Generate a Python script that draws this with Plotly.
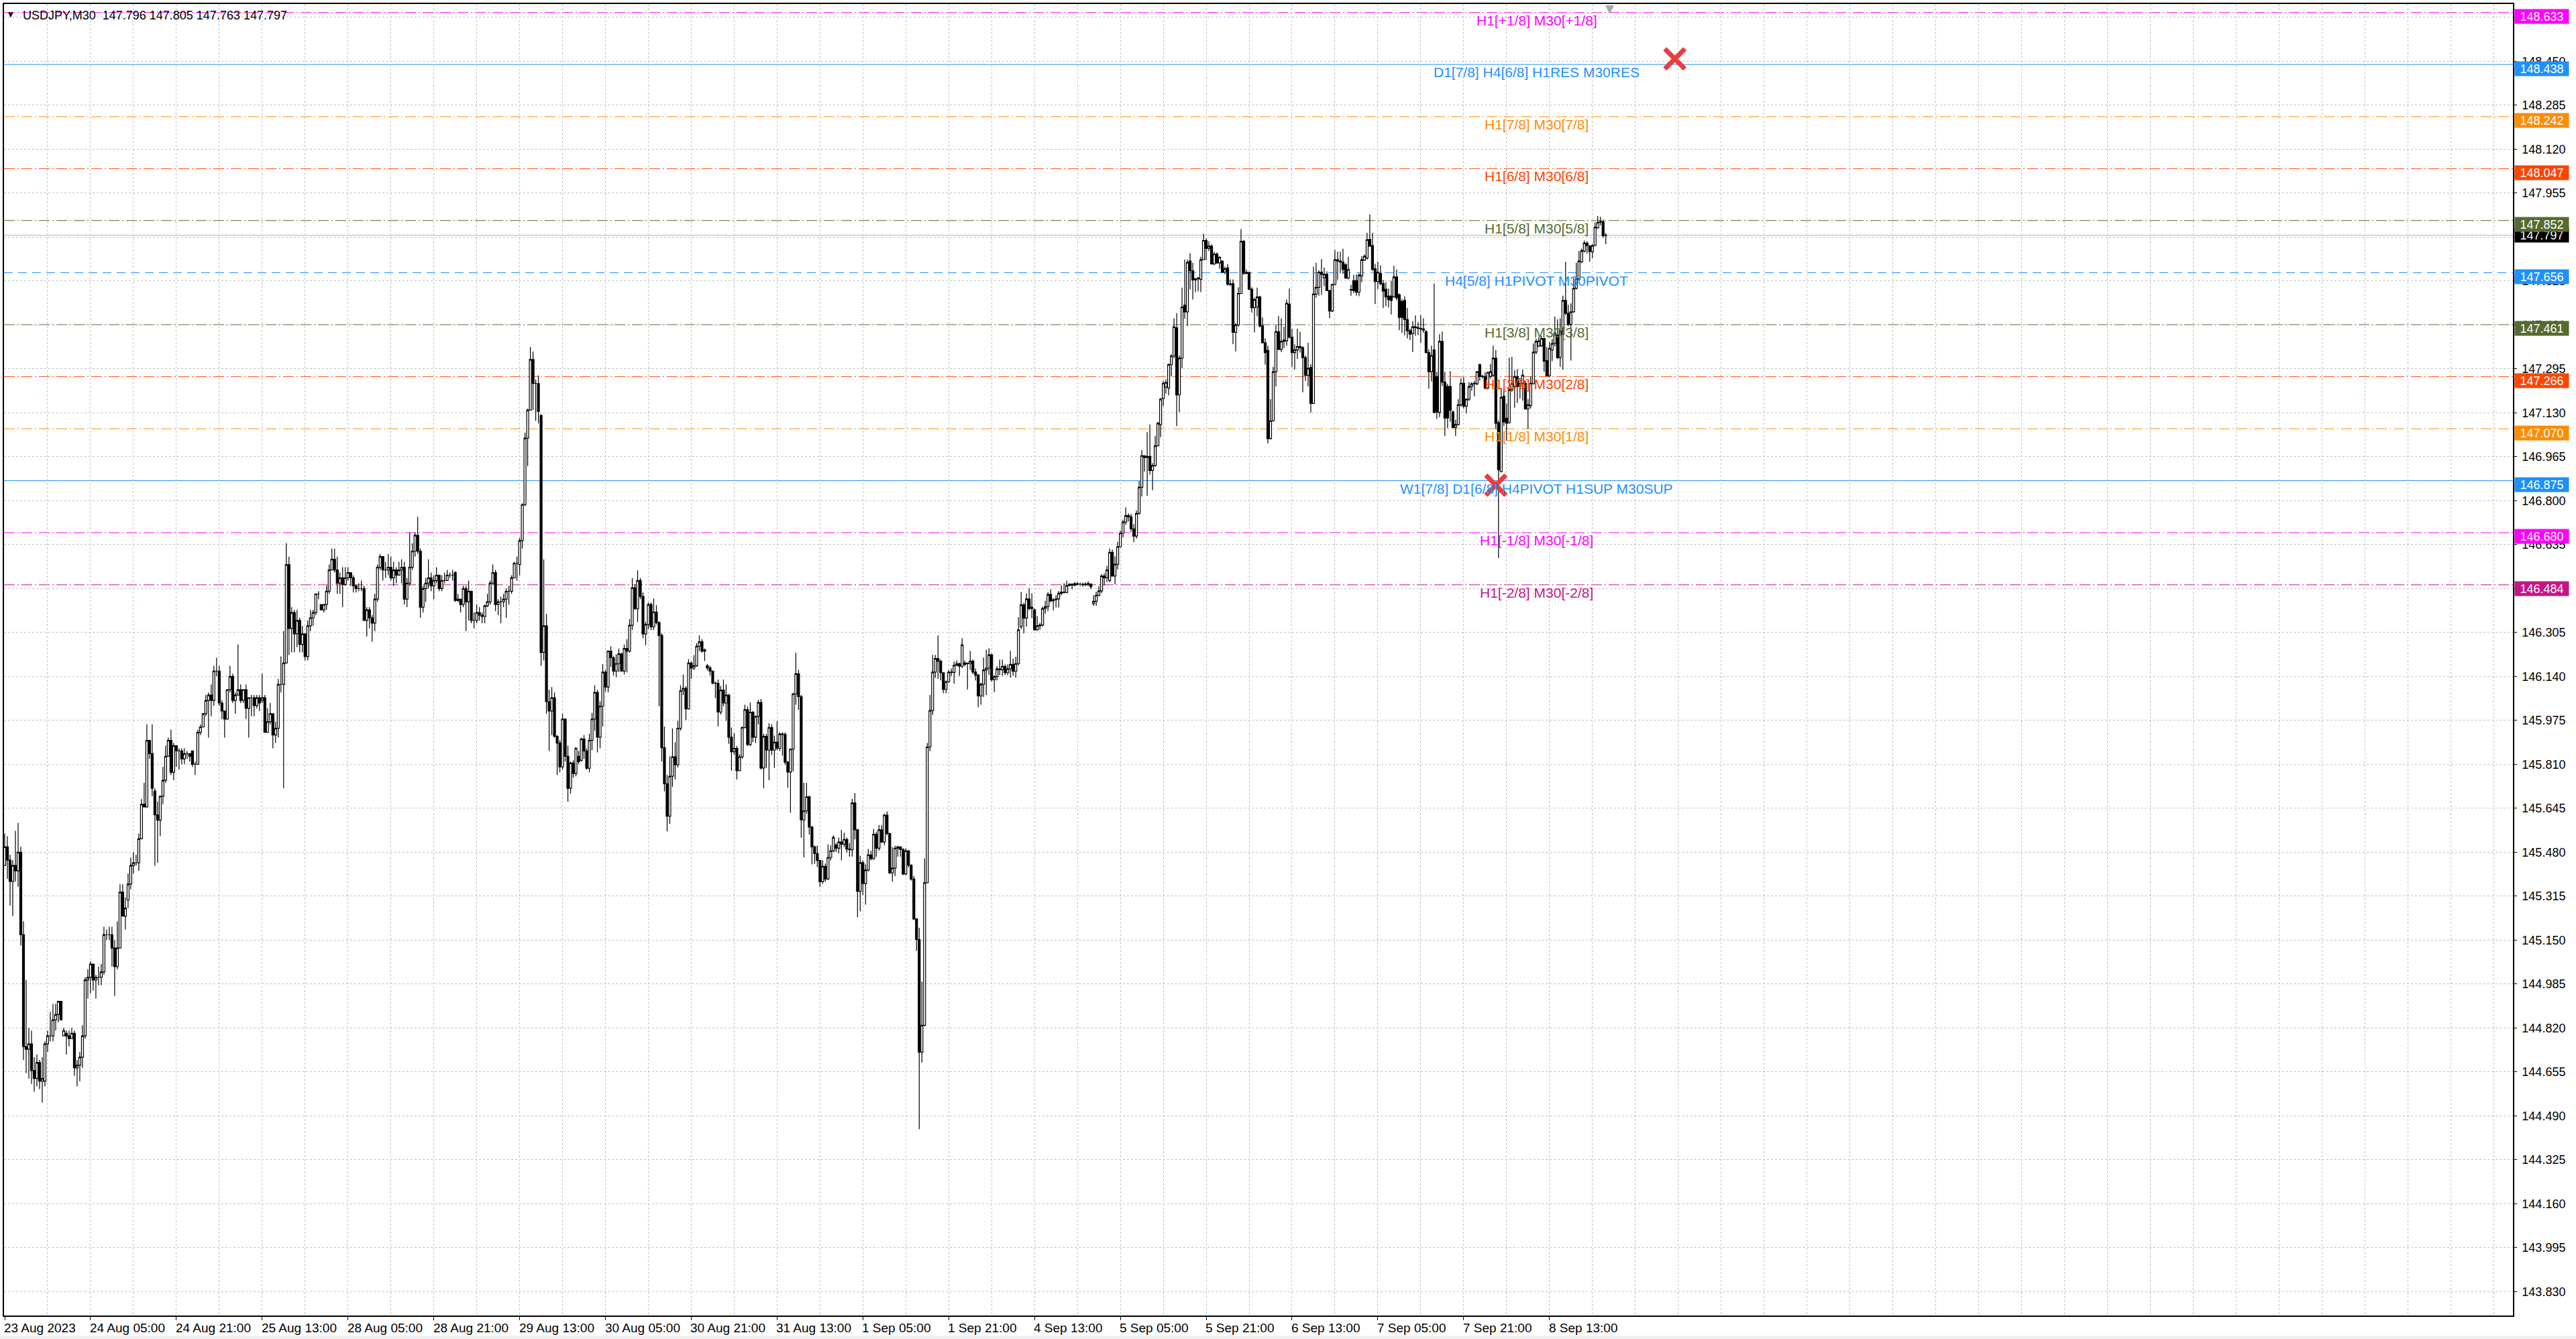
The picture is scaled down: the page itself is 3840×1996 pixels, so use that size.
import plotly.graph_objects as go

# chart header
header_text = "USDJPY,M30  147.796 147.805 147.763 147.797"

# time axis labels, one every 32 M30 bars (16 hours)
time_labels = ["23 Aug 2023", "24 Aug 05:00", "24 Aug 21:00", "25 Aug 13:00", "28 Aug 05:00",
               "28 Aug 21:00", "29 Aug 13:00", "30 Aug 05:00", "30 Aug 21:00", "31 Aug 13:00",
               "1 Sep 05:00", "1 Sep 21:00", "4 Sep 13:00", "5 Sep 05:00", "5 Sep 21:00",
               "6 Sep 13:00", "7 Sep 05:00", "7 Sep 21:00", "8 Sep 13:00"]
bars_per_label = 32

# price scale labels
price_ticks = [143.830, 143.995, 144.160, 144.325, 144.490, 144.655, 144.820, 144.985,
               145.150, 145.315, 145.480, 145.645, 145.810, 145.975, 146.140, 146.305,
               146.470, 146.635, 146.800, 146.965, 147.130, 147.295, 147.460, 147.625,
               147.790, 147.955, 148.120, 148.285, 148.450, 148.615]

# M30 candles
opens = [
    145.43, 145.50, 145.45, 145.37, 145.43, 145.41, 145.48, 145.17, 144.75, 144.74,
    144.76, 144.66, 144.63, 144.69, 144.62, 144.62, 144.76, 144.79, 144.79, 144.85,
    144.87, 144.92, 144.79, 144.80, 144.79, 144.78, 144.80, 144.67, 144.68, 144.71,
    144.79, 145.00, 145.01, 145.06, 145.00, 145.01, 145.01, 145.03, 145.17, 145.17,
    145.17, 145.12, 145.05, 145.12, 145.33, 145.24, 145.30, 145.36, 145.43, 145.44,
    145.44, 145.53, 145.66, 145.65, 145.90, 145.85, 145.71, 145.62, 145.60, 145.69,
    145.75, 145.84, 145.90, 145.78, 145.88, 145.86, 145.86, 145.83, 145.85, 145.85,
    145.86, 145.81, 145.81, 145.93, 145.95, 146.00, 146.05, 146.07, 146.05, 146.16,
    146.16, 146.04, 146.01, 145.98, 146.09, 146.14, 146.05, 146.07, 146.09, 146.05,
    146.09, 146.02, 146.06, 146.06, 146.03, 146.06, 146.05, 146.06, 145.93, 145.97,
    146.00, 145.92, 145.945, 146.11, 146.11, 146.19, 146.56, 146.32, 146.38, 146.30,
    146.35, 146.26, 146.30, 146.215, 146.33, 146.36, 146.38, 146.45, 146.41, 146.39,
    146.41, 146.46, 146.54, 146.58, 146.54, 146.49, 146.51, 146.485, 146.51, 146.53,
    146.51, 146.48, 146.47, 146.47, 146.47, 146.35, 146.39, 146.36, 146.34, 146.43,
    146.55, 146.59, 146.54, 146.54, 146.55, 146.51, 146.54, 146.52, 146.54, 146.55,
    146.43, 146.49, 146.55, 146.61, 146.67, 146.61, 146.40, 146.47, 146.49, 146.51,
    146.48, 146.50, 146.52, 146.47, 146.50, 146.50, 146.52, 146.52, 146.53, 146.425,
    146.43, 146.41, 146.47, 146.42, 146.46, 146.35, 146.35, 146.38, 146.37, 146.365,
    146.405, 146.42, 146.49, 146.53, 146.41, 146.42, 146.42, 146.43, 146.46, 146.46,
    146.51, 146.565, 146.56, 146.65, 146.785, 147.035, 147.14, 147.33, 147.24, 147.24,
    147.12, 146.23, 146.33, 146.045, 146.01, 146.06, 145.915, 145.89, 145.80, 145.98,
    145.84, 145.72, 145.815, 145.775, 145.84, 145.825, 145.905, 145.86, 145.795, 145.90,
    145.98, 146.08, 145.912, 146.028, 146.156, 146.10, 146.235, 146.21, 146.16, 146.188,
    146.225, 146.16, 146.245, 146.235, 146.332, 146.473, 146.394, 146.50, 146.44, 146.30,
    146.335, 146.41, 146.326, 146.382, 146.342, 146.294, 145.872, 145.737, 145.615, 145.765,
    145.838, 145.808, 145.945, 146.086, 146.095, 146.018, 146.19, 146.171, 146.18, 146.253,
    146.27, 146.235, 146.18, 146.172, 146.16, 146.115, 146.114, 146.006, 146.089, 146.04,
    146.07, 145.912, 145.857, 145.87, 145.786, 145.838, 145.948, 146.015, 145.884, 146.006,
    145.912, 145.99, 146.042, 145.796, 145.915, 145.863, 145.948, 145.863, 145.893, 145.87,
    145.924, 145.922, 145.818, 145.781, 145.867, 146.074, 146.15, 146.064, 145.601, 145.635,
    145.688, 145.574, 145.50, 145.475, 145.449, 145.369, 145.427, 145.379, 145.46, 145.485,
    145.507, 145.495, 145.518, 145.51, 145.528, 145.492, 145.489, 145.665, 145.564, 145.333,
    145.441, 145.362, 145.413, 145.47, 145.456, 145.547, 145.495, 145.564, 145.518, 145.619,
    145.55, 145.402, 145.42, 145.495, 145.50, 145.49, 145.398, 145.485, 145.431, 145.379,
    145.229, 145.152, 144.729, 144.83, 145.365, 145.875, 146.012, 146.156, 146.207, 146.197,
    146.154, 146.091, 146.12, 146.156, 146.155, 146.182, 146.188, 146.178, 146.185, 146.19,
    146.188, 146.197, 146.156, 146.145, 146.067, 146.11, 146.164, 146.171, 146.221, 146.128,
    146.139, 146.168, 146.165, 146.178, 146.154, 146.168, 146.185, 146.159, 146.188, 146.327,
    146.409, 146.359, 146.431, 146.395, 146.39, 146.315, 146.33, 146.333, 146.395, 146.402,
    146.448, 146.424, 146.428, 146.431, 146.452, 146.457, 146.455, 146.481, 146.486, 146.483,
    146.488, 146.486, 146.486, 146.484, 146.486, 146.487, 146.413, 146.422, 146.445, 146.461,
    146.517, 146.51, 146.50, 146.606, 146.517, 146.561, 146.627, 146.678, 146.72, 146.744,
    146.74, 146.694, 146.667, 146.752, 146.85, 146.969, 146.962, 146.966, 146.913, 146.932,
    147.006, 147.086, 147.184, 147.226, 147.223, 147.311, 147.343, 147.449, 147.197, 147.335,
    147.534, 147.509, 147.70, 147.663, 147.629, 147.633, 147.631, 147.705, 147.777, 147.747,
    147.756, 147.689, 147.726, 147.693, 147.70, 147.658, 147.675, 147.612, 147.615, 147.432,
    147.46, 147.578, 147.774, 147.654, 147.657, 147.594, 147.525, 147.527, 147.565, 147.456,
    147.393, 147.364, 147.033, 147.10, 147.284, 147.435, 147.368, 147.398, 147.40, 147.538,
    147.414, 147.356, 147.366, 147.379, 147.375, 147.337, 147.271, 147.30, 147.165, 147.576,
    147.601, 147.658, 147.637, 147.65, 147.589, 147.512, 147.612, 147.705, 147.70, 147.696,
    147.686, 147.636, 147.593, 147.626, 147.626, 147.583, 147.644, 147.703, 147.711, 147.781,
    147.758, 147.671, 147.623, 147.654, 147.615, 147.594, 147.568, 147.568, 147.565, 147.64,
    147.573, 147.548, 147.552, 147.48, 147.438, 147.428, 147.453, 147.45, 147.447, 147.445,
    147.435, 147.356, 147.284, 147.366, 147.266, 147.131, 147.398, 147.245, 147.229, 147.229,
    147.133, 147.075, 147.086, 147.16, 147.241, 147.155, 147.181, 147.229, 147.239, 147.239,
    147.311, 147.266, 147.266, 147.223, 147.266, 147.271, 147.335, 147.093, 146.909, 147.192,
    147.11, 147.093, 147.216, 147.229, 147.266, 147.229, 147.241, 147.241, 147.144, 147.157,
    147.239, 147.358, 147.38, 147.382, 147.409, 147.326, 147.269, 147.366, 147.39, 147.422,
    147.337, 147.424, 147.552, 147.504, 147.462, 147.509, 147.597, 147.631, 147.697, 147.737,
    147.767, 147.756, 147.735, 147.758, 147.824, 147.845, 147.848, 147.796]

highs = [
    145.55, 145.54, 145.47, 145.45, 145.56, 145.59, 145.50, 145.22, 145.00, 144.82,
    144.81, 144.71, 144.72, 144.70, 144.71, 144.77, 144.81, 144.88, 144.91, 144.91,
    144.92, 144.92, 144.82, 144.81, 144.81, 144.82, 144.81, 144.70, 144.73, 144.83,
    145.01, 145.04, 145.07, 145.06, 145.02, 145.05, 145.06, 145.20, 145.19, 145.20,
    145.20, 145.15, 145.22, 145.36, 145.36, 145.31, 145.40, 145.46, 145.48, 145.47,
    145.55, 145.68, 145.74, 145.96, 145.90, 145.96, 145.72, 145.67, 145.69, 145.80,
    145.88, 145.91, 145.94, 145.89, 145.88, 145.87, 145.87, 145.87, 145.86, 145.85,
    145.86, 145.82, 145.94, 145.96, 146.00, 146.07, 146.08, 146.11, 146.18, 146.21,
    146.18, 146.05, 146.01, 146.09, 146.18, 146.15, 146.08, 146.26, 146.11, 146.09,
    146.11, 146.06, 146.07, 146.07, 146.07, 146.07, 146.15, 146.07, 146.02, 146.04,
    146.00, 145.97, 146.13, 146.215, 146.31, 146.64, 146.59, 146.40, 146.39, 146.39,
    146.36, 146.33, 146.30, 146.35, 146.39, 146.39, 146.45, 146.46, 146.41, 146.41,
    146.48, 146.56, 146.62, 146.62, 146.59, 146.53, 146.55, 146.55, 146.55, 146.53,
    146.52, 146.485, 146.49, 146.50, 146.48, 146.40, 146.40, 146.37, 146.45, 146.56,
    146.60, 146.59, 146.57, 146.60, 146.59, 146.57, 146.55, 146.57, 146.58, 146.57,
    146.51, 146.68, 146.64, 146.68, 146.74, 146.62, 146.48, 146.51, 146.58, 146.53,
    146.52, 146.55, 146.52, 146.52, 146.53, 146.54, 146.53, 146.54, 146.535, 146.45,
    146.43, 146.48, 146.48, 146.50, 146.46, 146.38, 146.41, 146.40, 146.38, 146.41,
    146.45, 146.50, 146.56, 146.54, 146.43, 146.44, 146.45, 146.47, 146.48, 146.52,
    146.57, 146.59, 146.66, 146.79, 147.055, 147.145, 147.377, 147.36, 147.255, 147.27,
    147.125, 146.58, 146.375, 146.09, 146.10, 146.08, 145.92, 145.90, 146.00, 145.98,
    145.88, 145.82, 145.825, 145.875, 145.86, 145.91, 145.92, 145.87, 145.925, 146.003,
    146.107, 146.09, 146.046, 146.186, 146.164, 146.237, 146.253, 146.217, 146.223, 146.245,
    146.229, 146.26, 146.28, 146.355, 146.51, 146.485, 146.538, 146.51, 146.455, 146.345,
    146.418, 146.417, 146.433, 146.408, 146.347, 146.302, 145.952, 145.77, 145.84, 145.945,
    145.893, 145.973, 146.107, 146.147, 146.103, 146.205, 146.196, 146.22, 146.265, 146.294,
    146.28, 146.245, 146.186, 146.18, 146.162, 146.12, 146.128, 146.104, 146.128, 146.11,
    146.074, 145.948, 145.928, 145.879, 145.847, 145.952, 146.034, 146.028, 146.042, 146.01,
    145.993, 146.052, 146.055, 145.924, 145.924, 145.964, 145.96, 145.918, 145.972, 145.93,
    145.93, 145.93, 145.823, 145.869, 146.079, 146.229, 146.165, 146.07, 145.74, 145.74,
    145.692, 145.579, 145.505, 145.505, 145.449, 145.449, 145.437, 145.509, 145.506, 145.543,
    145.514, 145.535, 145.564, 145.553, 145.535, 145.514, 145.68, 145.702, 145.567, 145.466,
    145.449, 145.434, 145.492, 145.485, 145.567, 145.557, 145.582, 145.582, 145.625, 145.633,
    145.553, 145.499, 145.504, 145.504, 145.50, 145.495, 145.495, 145.489, 145.434, 145.391,
    145.232, 145.196, 144.994, 145.456, 145.89, 146.07, 146.221, 146.221, 146.294, 146.203,
    146.154, 146.125, 146.164, 146.17, 146.197, 146.20, 146.192, 146.284, 146.20, 146.192,
    146.236, 146.203, 146.17, 146.149, 146.116, 146.211, 146.24, 146.246, 146.226, 146.145,
    146.178, 146.203, 146.203, 146.185, 146.185, 146.236, 146.207, 146.214, 146.362, 146.457,
    146.416, 146.452, 146.471, 146.452, 146.395, 146.366, 146.341, 146.402, 146.424, 146.457,
    146.467, 146.434, 146.445, 146.46, 146.481, 146.49, 146.50, 146.49, 146.49, 146.495,
    146.494, 146.492, 146.492, 146.494, 146.497, 146.489, 146.445, 146.458, 146.479, 146.524,
    146.527, 146.556, 146.62, 146.616, 146.591, 146.646, 146.688, 146.729, 146.775, 146.752,
    146.75, 146.712, 146.763, 146.874, 146.99, 146.969, 147.057, 147.086, 146.941, 147.043,
    147.096, 147.186, 147.25, 147.255, 147.315, 147.35, 147.485, 147.504, 147.345, 147.60,
    147.705, 147.705, 147.729, 147.693, 147.636, 147.64, 147.716, 147.803, 147.785, 147.774,
    147.763, 147.735, 147.732, 147.718, 147.70, 147.679, 147.689, 147.631, 147.631, 147.467,
    147.601, 147.82, 147.779, 147.668, 147.658, 147.601, 147.562, 147.60, 147.57, 147.488,
    147.409, 147.382, 147.181, 147.303, 147.462, 147.493, 147.485, 147.453, 147.555, 147.597,
    147.446, 147.387, 147.446, 147.435, 147.379, 147.345, 147.393, 147.313, 147.679, 147.693,
    147.665, 147.707, 147.675, 147.661, 147.591, 147.615, 147.742, 147.735, 147.735, 147.746,
    147.692, 147.716, 147.61, 147.647, 147.65, 147.654, 147.718, 147.724, 147.806, 147.875,
    147.806, 147.689, 147.697, 147.684, 147.629, 147.62, 147.597, 147.626, 147.682, 147.668,
    147.578, 147.557, 147.568, 147.523, 147.446, 147.474, 147.496, 147.47, 147.496, 147.485,
    147.44, 147.368, 147.382, 147.615, 147.284, 147.425, 147.435, 147.284, 147.239, 147.287,
    147.139, 147.104, 147.181, 147.26, 147.266, 147.184, 147.245, 147.245, 147.25, 147.287,
    147.315, 147.273, 147.282, 147.284, 147.313, 147.382, 147.366, 147.102, 147.223, 147.218,
    147.165, 147.337, 147.34, 147.29, 147.294, 147.262, 147.292, 147.252, 147.181, 147.266,
    147.39, 147.409, 147.414, 147.419, 147.412, 147.377, 147.396, 147.407, 147.491, 147.481,
    147.485, 147.57, 147.697, 147.536, 147.541, 147.636, 147.693, 147.737, 147.746, 147.777,
    147.774, 147.76, 147.763, 147.845, 147.869, 147.866, 147.856, 147.805]

lows = [
    145.43, 145.38, 145.28, 145.24, 145.37, 145.35, 145.13, 144.70, 144.65, 144.63,
    144.61, 144.58, 144.60, 144.59, 144.54, 144.60, 144.73, 144.77, 144.77, 144.81,
    144.84, 144.85, 144.79, 144.72, 144.75, 144.78, 144.64, 144.60, 144.62, 144.67,
    144.78, 144.93, 144.95, 144.96, 144.93, 144.98, 144.98, 145.02, 145.15, 145.15,
    145.05, 144.94, 145.04, 145.12, 145.24, 145.19, 145.27, 145.34, 145.40, 145.43,
    145.41, 145.53, 145.65, 145.65, 145.83, 145.69, 145.43, 145.44, 145.54, 145.66,
    145.74, 145.84, 145.77, 145.75, 145.80, 145.79, 145.81, 145.81, 145.83, 145.82,
    145.80, 145.77, 145.81, 145.92, 145.95, 145.99, 145.91, 145.99, 146.03, 146.14,
    146.03, 145.98, 145.91, 145.98, 146.08, 146.04, 146.00, 146.07, 146.04, 146.04,
    145.98, 145.91, 145.99, 145.99, 146.02, 146.01, 146.04, 145.93, 145.93, 145.96,
    145.87, 145.89, 145.91, 146.08, 145.72, 146.19, 146.22, 146.23, 146.23, 146.25,
    146.23, 146.23, 146.20, 146.20, 146.31, 146.33, 146.37, 146.43, 146.39, 146.38,
    146.39, 146.45, 146.54, 146.53, 146.45, 146.45, 146.40, 146.48, 146.50, 146.48,
    146.455, 146.455, 146.46, 146.46, 146.35, 146.29, 146.32, 146.27, 146.31, 146.42,
    146.54, 146.50, 146.51, 146.52, 146.50, 146.48, 146.49, 146.52, 146.49, 146.41,
    146.40, 146.48, 146.54, 146.59, 146.60, 146.36, 146.38, 146.42, 146.47, 146.46,
    146.43, 146.49, 146.46, 146.46, 146.49, 146.50, 146.51, 146.50, 146.42, 146.42,
    146.38, 146.40, 146.31, 146.35, 146.34, 146.32, 146.34, 146.35, 146.34, 146.34,
    146.40, 146.41, 146.485, 146.385, 146.37, 146.34, 146.40, 146.36, 146.41, 146.45,
    146.51, 146.50, 146.52, 146.62, 146.78, 146.93, 147.14, 147.14, 147.10, 147.09,
    146.18, 146.20, 146.00, 145.86, 145.92, 145.91, 145.77, 145.78, 145.79, 145.82,
    145.67, 145.70, 145.76, 145.765, 145.81, 145.82, 145.83, 145.79, 145.78, 145.863,
    145.936, 145.855, 145.87, 145.952, 146.082, 146.08, 146.176, 146.144, 146.137, 146.156,
    146.16, 146.147, 146.155, 146.229, 146.314, 146.39, 146.345, 146.43, 146.284, 146.257,
    146.318, 146.314, 146.314, 146.335, 146.028, 145.82, 145.708, 145.558, 145.586, 145.725,
    145.753, 145.798, 145.936, 146.07, 145.976, 146.015, 146.131, 146.164, 146.176, 146.235,
    146.229, 146.198, 146.162, 146.144, 146.11, 146.058, 145.952, 145.997, 146.028, 145.973,
    145.887, 145.786, 145.845, 145.753, 145.786, 145.83, 145.945, 145.878, 145.878, 145.893,
    145.89, 145.96, 145.79, 145.72, 145.796, 145.75, 145.845, 145.796, 145.863, 145.86,
    145.842, 145.808, 145.722, 145.628, 145.784, 146.034, 146.015, 145.534, 145.46, 145.625,
    145.546, 145.434, 145.436, 145.424, 145.35, 145.362, 145.369, 145.376, 145.449, 145.48,
    145.48, 145.475, 145.449, 145.499, 145.478, 145.463, 145.463, 145.528, 145.235, 145.258,
    145.319, 145.283, 145.408, 145.449, 145.452, 145.463, 145.485, 145.514, 145.506, 145.543,
    145.398, 145.369, 145.391, 145.463, 145.463, 145.394, 145.394, 145.423, 145.373, 145.225,
    145.109, 144.44, 144.69, 144.825, 145.365, 145.86, 145.995, 146.135, 146.131, 146.125,
    146.077, 146.077, 146.116, 146.142, 146.113, 146.178, 146.142, 146.171, 146.178, 146.091,
    146.164, 146.149, 146.125, 146.024, 146.034, 146.063, 146.07, 146.145, 146.12, 146.081,
    146.125, 146.145, 146.142, 146.145, 146.145, 146.135, 146.142, 146.135, 146.182, 146.318,
    146.301, 146.327, 146.388, 146.359, 146.312, 146.312, 146.315, 146.327, 146.376, 146.385,
    146.417, 146.388, 146.399, 146.399, 146.445, 146.452, 146.452, 146.481, 146.467, 146.478,
    146.482, 146.479, 146.477, 146.479, 146.479, 146.468, 146.405, 146.405, 146.44, 146.453,
    146.482, 146.494, 146.493, 146.514, 146.485, 146.542, 146.624, 146.662, 146.709, 146.722,
    146.683, 146.644, 146.657, 146.747, 146.816, 146.909, 146.818, 146.898, 146.839, 146.927,
    147.004, 147.038, 147.155, 147.202, 147.195, 147.266, 147.335, 147.08, 147.133, 147.297,
    147.483, 147.456, 147.594, 147.555, 147.583, 147.587, 147.583, 147.703, 147.703, 147.737,
    147.686, 147.684, 147.689, 147.671, 147.654, 147.65, 147.608, 147.605, 147.388, 147.361,
    147.453, 147.576, 147.647, 147.65, 147.591, 147.506, 147.432, 147.493, 147.451, 147.39,
    147.311, 147.015, 147.03, 147.096, 147.229, 147.366, 147.358, 147.372, 147.382, 147.409,
    147.303, 147.292, 147.332, 147.356, 147.207, 147.25, 147.229, 147.131, 147.163, 147.562,
    147.57, 147.573, 147.605, 147.587, 147.485, 147.509, 147.608, 147.629, 147.654, 147.652,
    147.633, 147.631, 147.57, 147.58, 147.57, 147.568, 147.62, 147.70, 147.705, 147.753,
    147.663, 147.538, 147.594, 147.608, 147.523, 147.53, 147.525, 147.499, 147.562, 147.552,
    147.44, 147.43, 147.421, 147.409, 147.403, 147.358, 147.419, 147.421, 147.393, 147.43,
    147.354, 147.22, 147.248, 147.128, 147.107, 147.114, 147.231, 147.043, 147.072, 147.096,
    147.072, 147.043, 147.083, 147.152, 147.146, 147.128, 147.174, 147.213, 147.192, 147.234,
    147.25, 147.258, 147.218, 147.218, 147.258, 147.266, 147.07, 146.585, 146.909, 147.08,
    147.025, 147.089, 147.208, 147.149, 147.167, 147.184, 147.176, 147.142, 147.07, 147.146,
    147.237, 147.35, 147.377, 147.377, 147.284, 147.269, 147.263, 147.324, 147.379, 147.332,
    147.303, 147.292, 147.496, 147.456, 147.326, 147.506, 147.594, 147.626, 147.692, 147.732,
    147.728, 147.697, 147.711, 147.756, 147.822, 147.834, 147.788, 147.763]

closes = [
    145.50, 145.45, 145.37, 145.43, 145.41, 145.48, 145.17, 144.75, 144.74, 144.76,
    144.66, 144.63, 144.69, 144.62, 144.63, 144.76, 144.79, 144.79, 144.85, 144.87,
    144.92, 144.85, 144.81, 144.79, 144.78, 144.80, 144.67, 144.68, 144.71, 144.79,
    145.00, 145.01, 145.06, 145.00, 145.01, 145.01, 145.03, 145.17, 145.17, 145.17,
    145.12, 145.05, 145.12, 145.33, 145.24, 145.27, 145.36, 145.43, 145.44, 145.44,
    145.53, 145.66, 145.65, 145.90, 145.85, 145.72, 145.62, 145.60, 145.69, 145.75,
    145.84, 145.90, 145.78, 145.88, 145.86, 145.86, 145.83, 145.85, 145.85, 145.84,
    145.81, 145.81, 145.93, 145.95, 146.00, 146.05, 146.07, 146.05, 146.16, 146.16,
    146.04, 146.01, 145.98, 146.09, 146.14, 146.05, 146.07, 146.09, 146.05, 146.09,
    146.02, 146.06, 146.06, 146.03, 146.06, 146.04, 146.06, 145.93, 145.97, 146.00,
    145.92, 145.945, 146.11, 146.11, 146.19, 146.56, 146.32, 146.38, 146.30, 146.35,
    146.26, 146.30, 146.215, 146.33, 146.36, 146.38, 146.45, 146.45, 146.39, 146.41,
    146.46, 146.54, 146.58, 146.54, 146.49, 146.51, 146.485, 146.51, 146.53, 146.51,
    146.48, 146.47, 146.47, 146.47, 146.35, 146.39, 146.36, 146.34, 146.43, 146.55,
    146.59, 146.54, 146.54, 146.55, 146.51, 146.54, 146.52, 146.54, 146.55, 146.43,
    146.49, 146.55, 146.61, 146.67, 146.61, 146.40, 146.47, 146.49, 146.51, 146.48,
    146.50, 146.52, 146.47, 146.50, 146.50, 146.52, 146.52, 146.52, 146.425, 146.43,
    146.41, 146.47, 146.42, 146.46, 146.35, 146.35, 146.38, 146.37, 146.365, 146.405,
    146.42, 146.49, 146.53, 146.41, 146.42, 146.42, 146.43, 146.46, 146.46, 146.51,
    146.565, 146.565, 146.65, 146.785, 147.035, 147.14, 147.33, 147.24, 147.24, 147.135,
    146.23, 146.33, 146.045, 146.01, 146.06, 145.915, 145.89, 145.80, 145.98, 145.84,
    145.72, 145.815, 145.775, 145.87, 145.82, 145.905, 145.86, 145.795, 145.90, 145.98,
    146.08, 145.912, 146.028, 146.156, 146.10, 146.235, 146.21, 146.16, 146.188, 146.225,
    146.16, 146.245, 146.235, 146.332, 146.473, 146.394, 146.50, 146.44, 146.30, 146.335,
    146.41, 146.326, 146.382, 146.342, 146.294, 145.872, 145.737, 145.615, 145.765, 145.838,
    145.808, 145.945, 146.086, 146.095, 146.018, 146.19, 146.171, 146.18, 146.253, 146.27,
    146.235, 146.24, 146.172, 146.16, 146.115, 146.114, 146.006, 146.089, 146.04, 146.07,
    145.912, 145.857, 145.87, 145.786, 145.838, 145.948, 146.015, 145.884, 146.006, 145.912,
    145.99, 146.042, 145.796, 145.915, 145.863, 145.948, 145.863, 145.893, 145.87, 145.924,
    145.922, 145.818, 145.781, 145.867, 146.074, 146.15, 146.064, 145.601, 145.635, 145.688,
    145.574, 145.50, 145.475, 145.449, 145.369, 145.427, 145.379, 145.46, 145.485, 145.535,
    145.495, 145.518, 145.51, 145.528, 145.492, 145.489, 145.665, 145.564, 145.333, 145.441,
    145.362, 145.413, 145.47, 145.456, 145.547, 145.495, 145.564, 145.518, 145.619, 145.55,
    145.402, 145.42, 145.495, 145.50, 145.49, 145.398, 145.485, 145.431, 145.379, 145.229,
    145.152, 144.729, 144.83, 145.365, 145.875, 146.012, 146.156, 146.207, 146.197, 146.154,
    146.091, 146.12, 146.156, 146.155, 146.182, 146.188, 146.178, 146.258, 146.19, 146.188,
    146.197, 146.156, 146.145, 146.067, 146.11, 146.164, 146.171, 146.221, 146.128, 146.139,
    146.168, 146.165, 146.178, 146.154, 146.168, 146.185, 146.159, 146.188, 146.315, 146.409,
    146.359, 146.431, 146.395, 146.40, 146.315, 146.33, 146.333, 146.395, 146.402, 146.448,
    146.424, 146.428, 146.431, 146.452, 146.457, 146.455, 146.481, 146.486, 146.483, 146.488,
    146.486, 146.486, 146.484, 146.486, 146.489, 146.477, 146.422, 146.445, 146.461, 146.517,
    146.51, 146.54, 146.606, 146.517, 146.561, 146.627, 146.678, 146.72, 146.744, 146.74,
    146.694, 146.667, 146.752, 146.85, 146.969, 146.962, 146.966, 146.913, 146.932, 147.006,
    147.091, 147.181, 147.241, 147.244, 147.311, 147.343, 147.453, 147.197, 147.335, 147.527,
    147.509, 147.695, 147.663, 147.629, 147.633, 147.636, 147.705, 147.777, 147.747, 147.756,
    147.689, 147.726, 147.693, 147.714, 147.658, 147.671, 147.612, 147.614, 147.432, 147.46,
    147.578, 147.774, 147.654, 147.657, 147.594, 147.525, 147.555, 147.565, 147.456, 147.393,
    147.356, 147.033, 147.10, 147.284, 147.435, 147.368, 147.398, 147.403, 147.541, 147.414,
    147.356, 147.366, 147.379, 147.375, 147.337, 147.271, 147.297, 147.165, 147.576, 147.601,
    147.658, 147.65, 147.65, 147.589, 147.512, 147.612, 147.705, 147.70, 147.696, 147.668,
    147.636, 147.668, 147.591, 147.589, 147.583, 147.647, 147.705, 147.718, 147.78, 147.756,
    147.668, 147.623, 147.658, 147.615, 147.587, 147.565, 147.555, 147.552, 147.64, 147.562,
    147.488, 147.488, 147.48, 147.438, 147.425, 147.453, 147.45, 147.447, 147.445, 147.44,
    147.356, 147.284, 147.345, 147.131, 147.133, 147.398, 147.245, 147.11, 147.11, 147.139,
    147.075, 147.086, 147.16, 147.241, 147.155, 147.181, 147.229, 147.239, 147.241, 147.284,
    147.266, 147.267, 147.223, 147.282, 147.284, 147.335, 147.091, 146.916, 147.188, 147.096,
    147.091, 147.216, 147.239, 147.266, 147.229, 147.241, 147.271, 147.144, 147.16, 147.241,
    147.358, 147.398, 147.40, 147.409, 147.324, 147.269, 147.372, 147.39, 147.43, 147.337,
    147.438, 147.552, 147.504, 147.462, 147.509, 147.597, 147.633, 147.70, 147.739, 147.767,
    147.758, 147.735, 147.758, 147.827, 147.845, 147.848, 147.795, 147.797]

# Murrey math levels drawn by the indicator
level_prices = [148.633, 148.438, 148.242, 148.047, 147.852, 147.656,
                147.461, 147.266, 147.070, 146.875, 146.680, 146.484]
level_names = ["H1[+1/8] M30[+1/8]", "D1[7/8] H4[6/8] H1RES M30RES", "H1[7/8] M30[7/8]",
               "H1[6/8] M30[6/8]", "H1[5/8] M30[5/8]", "H4[5/8] H1PIVOT M30PIVOT",
               "H1[3/8] M30[3/8]", "H1[2/8] M30[2/8]", "H1[1/8] M30[1/8]",
               "W1[7/8] D1[6/8] H4PIVOT H1SUP M30SUP", "H1[-1/8] M30[-1/8]", "H1[-2/8] M30[-2/8]"]
bid_price = 147.797

# red crosses left on the chart
cross_bars = [556, 622.75]
cross_prices = [146.858, 148.459]

# styles
level_colors = ["#FF00FF", "#1E90FF", "#FF8C00", "#FF4500", "#556B2F", "#1E90FF",
                "#556B2F", "#FF4500", "#FF8C00", "#1E90FF", "#FF00FF", "#C71585"]
dashdot = "16px,4px,2px,4px"
level_dashes = [dashdot, "solid", dashdot, dashdot, dashdot, "13px,8px",
                dashdot, dashdot, dashdot, "solid", dashdot, dashdot]
grid_color = "#C0C0C0"
grid_dash = "3px,3px"
axis_font = dict(family="Liberation Sans, Arial, sans-serif", size=18, color="black")

bars = list(range(len(closes)))
label_bars = [k * bars_per_label for k in range(len(time_labels))]
x_max = 935.25
minor_bars = [v for v in range(0, 936, 16) if v not in label_bars]

fig = go.Figure()

fig.add_trace(go.Candlestick(
    x=bars, open=opens, high=highs, low=lows, close=closes,
    increasing=dict(line=dict(color="black", width=1.2), fillcolor="white"),
    decreasing=dict(line=dict(color="black", width=1.2), fillcolor="black"),
    whiskerwidth=0, hoverinfo="skip", showlegend=False))

fig.add_trace(go.Scatter(
    x=cross_bars, y=cross_prices, mode="markers", hoverinfo="skip", showlegend=False,
    marker=dict(symbol="x-thin", size=30, line=dict(width=7, color="#EE3B3F"))))

shapes = []
for price, color, dash in zip(level_prices, level_colors, level_dashes):
    shapes.append(dict(type="line", xref="paper", x0=0, x1=1, yref="y", y0=price, y1=price,
                       line=dict(color=color, width=1, dash=dash), layer="below"))
shapes.append(dict(type="line", xref="paper", x0=0, x1=1, yref="y", y0=bid_price, y1=bid_price,
                   line=dict(color="#B8B8B8", width=1), layer="below"))
# thin window strip under the time scale
shapes.append(dict(type="rect", xref="paper", x0=-0.01, x1=1.03, yref="paper",
                   y0=-0.0185, y1=-0.0155, fillcolor="#F0F0F0", line=dict(width=0)))

annotations = []
# level captions on the chart
for price, name, color in zip(level_prices, level_names, level_colors):
    annotations.append(dict(x=571.25, y=price, xref="x", yref="y", text=name, showarrow=False,
                            xanchor="center", yanchor="top", yshift=2,
                            font=dict(family="Liberation Sans, Arial, sans-serif", size=21, color=color)))

# price boxes on the scale: bid first, levels drawn over it
annotations.append(dict(x=1, y=bid_price, xref="paper", yref="y", text=f"{bid_price:.3f}",
                        showarrow=False, xanchor="left", yanchor="middle", xshift=2,
                        width=76, height=17, borderpad=2, bgcolor="black",
                        font=dict(family=axis_font["family"], size=18, color="white")))
for price, color in zip(level_prices, level_colors):
    annotations.append(dict(x=1, y=price, xref="paper", yref="y", text=f"{price:.3f}",
                            showarrow=False, xanchor="left", yanchor="middle", xshift=2, yshift=-6,
                            width=76, height=17, borderpad=2, bgcolor=color,
                            font=dict(family=axis_font["family"], size=18, color="white")))

# time labels, left aligned on their tick
for b, lab in zip(label_bars, time_labels):
    annotations.append(dict(x=b, y=0, xref="x", yref="paper", text=lab, showarrow=False,
                            xanchor="left", yanchor="top", yshift=-6, xshift=-3,
                            font=dict(family="Liberation Sans Narrow, Liberation Sans, Arial",
                                      size=19, color="black")))

# header
annotations.append(dict(x=0, y=1, xref="paper", yref="paper", text="▼", showarrow=False,
                        xanchor="left", yanchor="top", xshift=4, yshift=-8,
                        font=dict(family="DejaVu Sans", size=10, color="black")))
annotations.append(dict(x=0, y=1, xref="paper", yref="paper", text=header_text, showarrow=False,
                        xanchor="left", yanchor="top", xshift=26, yshift=-5,
                        font=dict(family="Liberation Sans, Arial, sans-serif", size=18, color="black")))
# chart shift marker
annotations.append(dict(x=598.5, y=1, xref="x", yref="paper", text="▼", showarrow=False,
                        xanchor="center", yanchor="top", yshift=5,
                        font=dict(family="DejaVu Sans", size=17, color="#A8A8A8")))

fig.update_layout(
    width=3840, height=1996,
    margin=dict(l=4, r=94, t=4, b=35),
    paper_bgcolor="white", plot_bgcolor="white",
    showlegend=False, boxgap=0.25, boxgroupgap=0,
    shapes=shapes, annotations=annotations,
    xaxis=dict(range=[-0.25, x_max], rangeslider=dict(visible=False),
               tickmode="array", tickvals=label_bars, showticklabels=False,
               ticks="outside", ticklen=5, tickcolor="black",
               showline=True, linecolor="black", linewidth=1.5, mirror=True,
               showgrid=True, gridcolor=grid_color, griddash=grid_dash, gridwidth=1,
               zeroline=False,
               minor=dict(tickmode="array", tickvals=minor_bars, showgrid=True,
                          gridcolor=grid_color, griddash=grid_dash, gridwidth=1, ticks="")),
    yaxis=dict(range=[143.740, 148.665], side="right",
               tickmode="array", tickvals=price_ticks,
               ticktext=[f"{v:.3f}" for v in price_ticks],
               ticks="outside", ticklen=4, tickcolor="black", tickfont=axis_font,
               ticklabelstandoff=4,
               showline=True, linecolor="black", linewidth=1.5, mirror=True,
               showgrid=True, gridcolor=grid_color, griddash=grid_dash, gridwidth=1,
               zeroline=False),
)

# the page's default body margin would push the chart 8px off the window corner
fig.write_html("out.html", config={"displayModeBar": False},
               post_script="document.body.style.margin='0px';")
